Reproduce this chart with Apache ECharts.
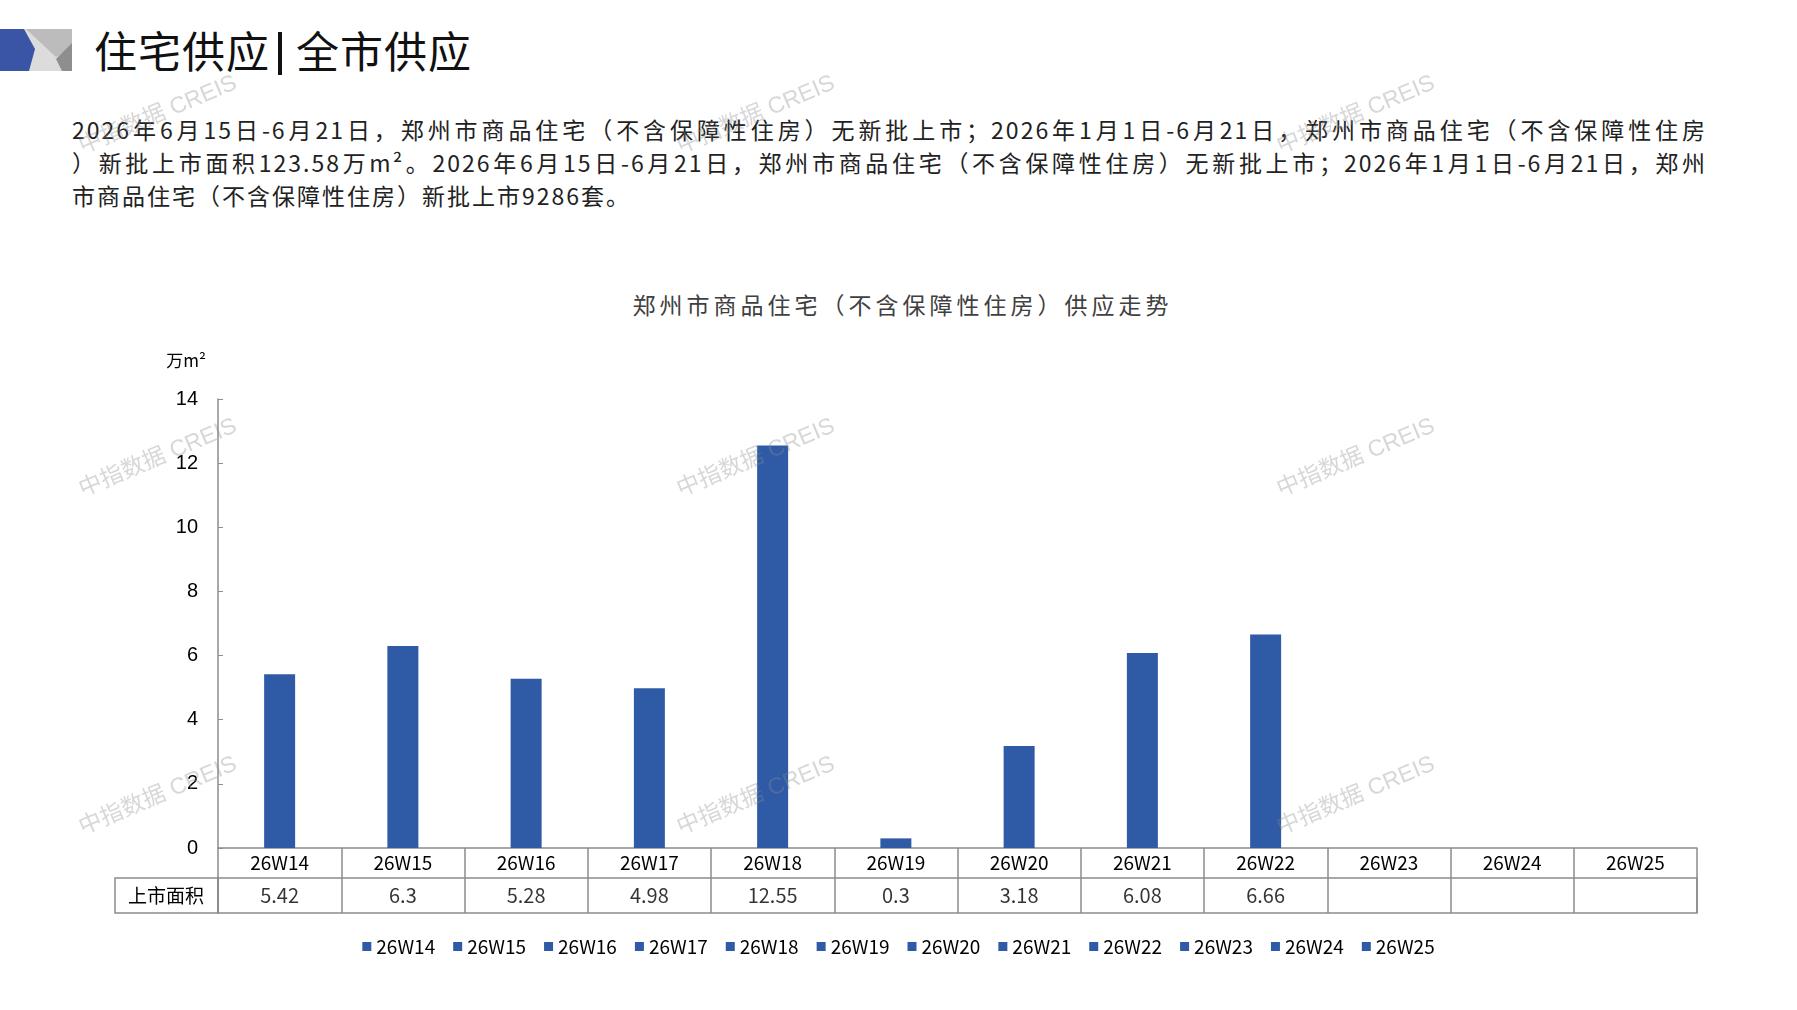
<!DOCTYPE html>
<html>
<head>
<meta charset="UTF-8">
<title>住宅供应|全市供应</title>
<script src="https://cdn.jsdelivr.net/npm/echarts@6/dist/echarts.min.js"></script>
<style>
html, body { margin: 0; padding: 0; background: #fff; }
body { width: 1797px; height: 1010px; position: relative; overflow: hidden; font-family: "Noto Sans CJK SC", sans-serif; }
.logo { position: absolute; left: 0; top: 29px; }
.head { position: absolute; left: 94px; top: 24px; height: 50px; line-height: 50px; font-size: 43px; letter-spacing: 1px; color: #111; white-space: nowrap; }
.head .bar { display: inline-block; width: 4px; height: 43px; background: #111; vertical-align: middle; margin: -6px 14px 0 8px; }
.desc { position: absolute; left: 72px; top: 113px; width: 1635px; font-size: 23px; line-height: 33px; color: #222; letter-spacing: 2px; }
.desc div { text-align: justify; text-align-last: justify; }
.desc div.last { text-align-last: left; }
.chart-title { position: absolute; left: 4px; top: 289px; width: 1797px; line-height: 30px; text-align: center; font-size: 23px; letter-spacing: 4px; color: #404040; white-space: nowrap; }
#chart { position: absolute; left: 0; top: 0; width: 1797px; height: 1010px; }
</style>
</head>
<body>
    <!-- 标题 -->
    <svg class="logo" width="72" height="42" viewBox="0 0 72 42">
        <rect x="18" y="0" width="54" height="42" fill="#dcdcdc" />
        <polygon points="26,0 72,0 72,20 56,28" fill="#bcbcbc" />
        <polygon points="56,30 72,14 72,42 62,42" fill="#8e8e8e" />
        <polygon points="0,0 24,0 35,20 29,42 0,42" fill="#3a55a5" />
    </svg>
    <div class="head">住宅供应<span class="bar"></span>全市供应</div>

    <!-- 说明文字 -->
    <div class="desc">
        <div>2026年6月15日-6月21日，郑州市商品住宅（不含保障性住房）无新批上市；2026年1月1日-6月21日，郑州市商品住宅（不含保障性住房</div>
        <div>）新批上市面积123.58万m²。2026年6月15日-6月21日，郑州市商品住宅（不含保障性住房）无新批上市；2026年1月1日-6月21日，郑州</div>
        <div class="last">市商品住宅（不含保障性住房）新批上市9286套。</div>
    </div>

    <!-- 图表 -->
    <div class="chart-title" id="chartTitle"></div>
    <div id="chart"></div>

<script type="text/javascript">
    // 数据
    var categories = ['26W14', '26W15', '26W16', '26W17', '26W18', '26W19',
                      '26W20', '26W21', '26W22', '26W23', '26W24', '26W25'];
    var areaValues = [5.42, 6.3, 5.28, 4.98, 12.55, 0.3, 3.18, 6.08, 6.66, null, null, null];
    var yTicks = [0, 2, 4, 6, 8, 10, 12, 14];
    var rowName = '上市面积';
    var chartTitle = '郑州市商品住宅（不含保障性住房）供应走势';
    var unitName = '万m²';

    var barColor = '#2f5aa6';
    var lineColor = '#8c8c8c';
    var cjkFont = '"Noto Sans CJK SC", sans-serif';

    document.getElementById('chartTitle').textContent = chartTitle;

    var myChart = echarts.init(document.getElementById('chart'));

    // 每周一个系列，这样图例里每周都有一项
    var barSeries = categories.map(function (name, i) {
        return {
            name: name,
            type: 'bar',
            stack: 'week',
            barWidth: 31,
            xAxisIndex: 0,
            yAxisIndex: 0,
            itemStyle: { color: barColor },
            data: categories.map(function (c, j) { return j === i ? areaValues[i] : null; })
        };
    });

    // 下方数据表那一行
    var tableData = [];
    areaValues.forEach(function (v, i) {
        if (v !== null) tableData.push([categories[i], rowName, v]);
    });
    var tableSeries = {
        type: 'scatter',
        xAxisIndex: 1,
        yAxisIndex: 1,
        symbolSize: 1,
        silent: true,
        itemStyle: { color: 'rgba(0,0,0,0)' },
        label: {
            show: true,
            position: 'inside',
            formatter: function (p) { return String(p.value[2]); },
            fontSize: 20,
            color: '#000',
            fontFamily: cjkFont
        },
        data: tableData
    };

    // 水印
    var watermarkSpots = [[158, 115], [756, 115], [1356, 115],
                          [158, 458], [756, 458], [1356, 458],
                          [158, 796], [756, 796], [1356, 796]];
    var watermarks = watermarkSpots.map(function (p) {
        return {
            type: 'text', x: p[0], y: p[1], rotation: 0.4, z: 100, silent: true,
            style: {
                text: '中指数据 CREIS', fill: 'rgba(140,140,140,0.35)',
                fontSize: 23, fontFamily: '"Liberation Sans", "Noto Sans CJK SC"',
                align: 'center', verticalAlign: 'middle'
            }
        };
    });

    var option = {
        animation: false,
        legend: {
            data: categories,
            top: 932,
            left: 'center',
            icon: 'rect',
            itemWidth: 9,
            itemHeight: 9,
            itemGap: 18,
            selectedMode: false,
            textStyle: { fontSize: 19, color: '#000', fontFamily: cjkFont }
        },
        grid: [
            { left: 218, right: 100, top: 399, height: 449 },
            { left: 218, right: 100, top: 878, height: 35, show: true, borderColor: lineColor, borderWidth: 1.5 }
        ],
        xAxis: [{
            type: 'category',
            gridIndex: 0,
            data: categories,
            boundaryGap: true,
            axisLine: { lineStyle: { color: lineColor, width: 1.5 } },
            axisTick: { show: true, interval: 0, length: 30, lineStyle: { color: lineColor, width: 1.5 } },
            axisLabel: { interval: 0, margin: 5, fontSize: 19, color: '#000', fontFamily: cjkFont }
        }, {
            type: 'category',
            gridIndex: 1,
            data: categories,
            boundaryGap: true,
            axisLine: { show: false },
            axisTick: { show: true, inside: true, interval: 0, length: 35, lineStyle: { color: lineColor, width: 1.5 } },
            axisLabel: { show: false }
        }],
        yAxis: [{
            type: 'value',
            gridIndex: 0,
            min: yTicks[0],
            max: yTicks[yTicks.length - 1],
            interval: yTicks[1] - yTicks[0],
            name: unitName,
            nameLocation: 'end',
            nameGap: 30,
            nameTextStyle: { fontSize: 17, color: '#000', align: 'right', padding: [0, 12, 0, 0], fontFamily: cjkFont },
            splitLine: { show: false },
            axisLine: { show: true, lineStyle: { color: lineColor, width: 1.5 } },
            axisTick: { show: true, inside: true, length: 5, lineStyle: { color: lineColor } },
            axisLabel: { margin: 20, fontSize: 20, color: '#000', fontFamily: '"Liberation Sans", Arial' }
        }, {
            type: 'category',
            gridIndex: 1,
            data: [rowName],
            axisLine: { show: false },
            axisTick: { show: false },
            axisLabel: { align: 'center', margin: 52, fontSize: 19, color: '#000', fontFamily: cjkFont }
        }],
        graphic: [{
            type: 'rect',
            shape: { x: 115, y: 878, width: 103, height: 35 },
            style: { fill: 'none', stroke: lineColor, lineWidth: 1.5 },
            silent: true
        }].concat(watermarks),
        series: barSeries.concat([tableSeries])
    };

    myChart.setOption(option);
</script>
</body>
</html>
